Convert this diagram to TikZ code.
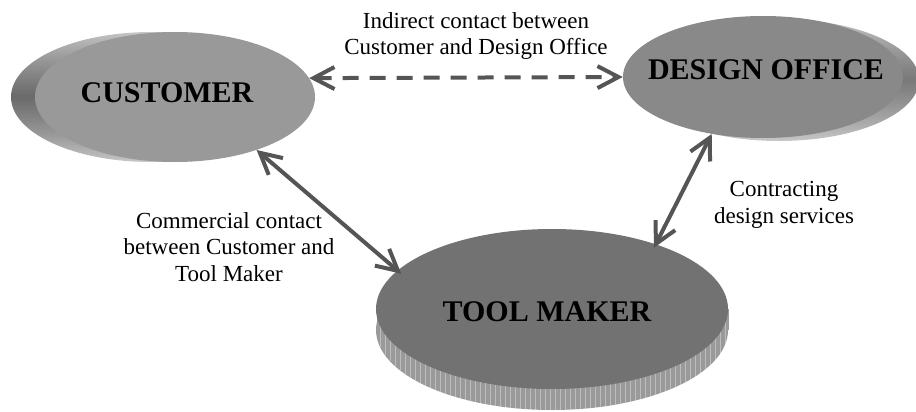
\documentclass[tikz,border=0pt]{standalone}
\usepackage{fontspec}
\setmainfont{Liberation Serif}
\usetikzlibrary{shapes.geometric,arrows.meta}
\definecolor{arr}{HTML}{555555}
\definecolor{custfill}{HTML}{999999}
\definecolor{dofill}{HTML}{898989}
\definecolor{tmfill}{HTML}{727272}
\definecolor{tmside}{HTML}{9A9A9A}
\definecolor{shlight}{HTML}{CACACA}
\definecolor{shdark}{HTML}{6A6A6A}
\begin{document}
\begin{tikzpicture}[x=1pt,y=-1pt,
  blob/.style={ellipse, inner sep=0pt, draw=none},
  title/.style={font=\fontsize{30}{36}\selectfont\bfseries, text=black},
  lbl/.style={font=\fontsize{23}{26.5}\selectfont, align=center, inner sep=0pt},
  conn/.style={draw=arr, line width=4pt,
    {Straight Barb[length=21pt,width=22pt]}-{Straight Barb[length=21pt,width=22pt]}},
  dashline/.style={dash pattern=on 16pt off 11pt}]
\useasboundingbox (0,0) rectangle (916,412);

% customer extrusion shadow (banded shading)
\begin{scope}
  \clip (151,97) ellipse [x radius=140, y radius=65];
  \foreach \i in {-33,...,32}{
    \pgfmathsetmacro\p{100*(1-abs(\i*2+1)/66)^0.8}
    \fill[shdark!\p!shlight] (0,97+2*\i) rectangle (320,97+2*\i+2.3);
  }
\end{scope}
% design office extrusion shadow
\begin{scope}
  \clip (779,80) ellipse [x radius=140, y radius=61];
  \foreach \i in {-31,...,30}{
    \pgfmathsetmacro\p{85*(1-abs(\i*2+1)/62)^0.8}
    \fill[shdark!\p!shlight] (620,80+2*\i) rectangle (916,80+2*\i+2.3);
  }
\end{scope}

% tool maker cylinder side
\fill[tmside] (552,330) ellipse [x radius=176, y radius=80];
\fill[tmside] (376.5,309) rectangle (728.5,330);
\foreach \x in {380,385,...,725}{
  \pgfmathsetmacro\yy{330+80*sqrt(max(0,1-((\x-552)/176)^2))}
  \draw[white, opacity=0.35, line width=0.6pt] (\x,309) -- (\x,\yy);
}

% nodes
\node[blob, fill=custfill, minimum width=280pt, minimum height=130pt,
  label={[title, xshift=-8pt, yshift=4pt]center:CUSTOMER}] (cust) at (175,97) {};
\node[blob, fill=dofill, minimum width=280pt, minimum height=122pt,
  label={[title, xshift=3pt, yshift=7pt]center:DESIGN OFFICE}] (do) at (763,77) {};
\node[blob, fill=tmfill, minimum width=352pt, minimum height=160pt,
  label={[title, xshift=-5pt, yshift=-3pt]center:TOOL MAKER}] (tool) at (552,309) {};

% labels
\node[lbl] (l1) at (476,36) {Indirect contact between\\Customer and Design Office};
\node[lbl] (l2) at (229,247) {Commercial contact\\between Customer and\\Tool Maker};
\node[lbl] (l3) at (784,205) {Contracting\\design services};

% connectors
\draw[conn, dashline] (cust.8) -- (do.180);
\draw[conn, shorten >=-5pt] (cust.-33.5) -- (tool.166);
\draw[conn, shorten >=-4pt] (do.-132.4) -- (tool.32);
\end{tikzpicture}
\end{document}
